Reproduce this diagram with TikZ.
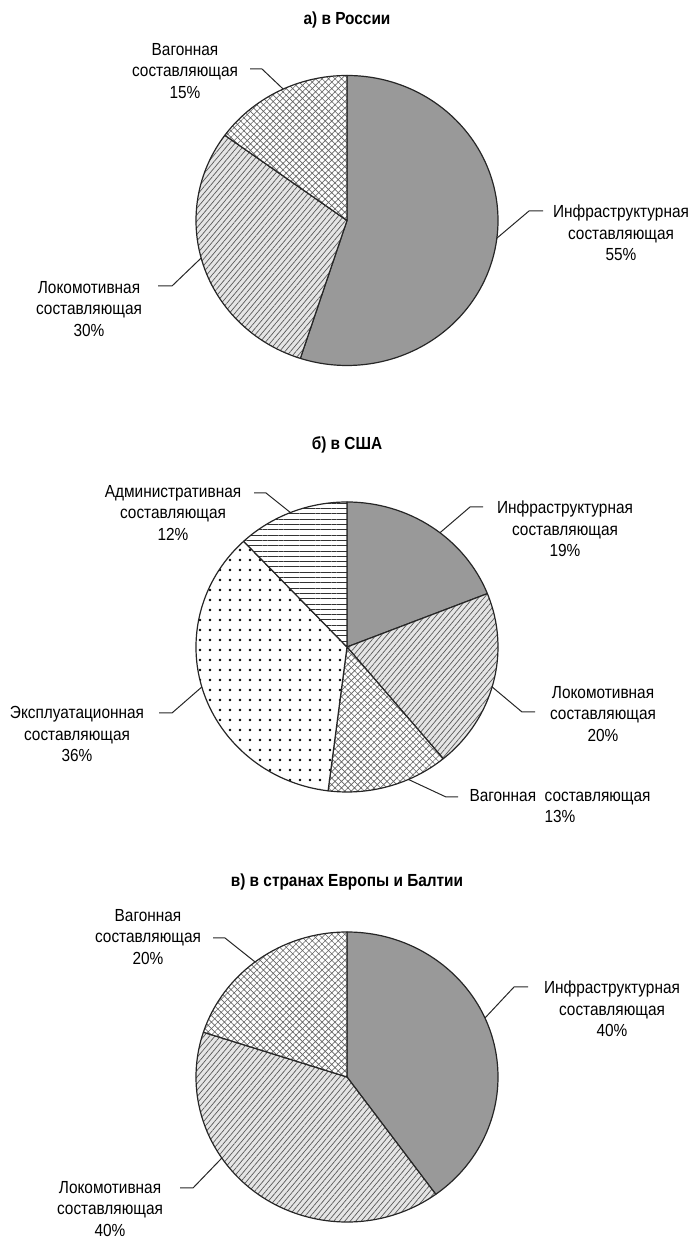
\documentclass[tikz,border=0pt]{standalone}
\usepackage{fontspec}
\setmainfont{Liberation Sans}[FakeStretch=0.88]
\usetikzlibrary{patterns.meta,calc}
\begin{document}
\begin{tikzpicture}[x=1pt,y=1pt,
  wedge/.style={draw=black!85, line width=1.2pt, line join=round},
  infra/.style={wedge, fill=black!40},
  loco/.style={wedge, preaction={fill=black!10}, pattern={Lines[angle=50,distance=4.2pt,line width=0.7pt]}, pattern color=black!65},
  vagon/.style={wedge, preaction={fill=white}, pattern={Hatch[angle=45,distance=4.6pt,line width=0.65pt]}, pattern color=black!60},
  expl/.style={wedge, preaction={fill=white}, pattern={Dots[distance=10pt,radius=1.3pt]}, pattern color=black},
  admin/.style={wedge, preaction={fill=white}, pattern={Lines[angle=0,distance=5.3pt,line width=0.8pt]}, pattern color=black!80},
  lbl/.style={align=center, font=\fontsize{17.5}{21.5}\selectfont, inner sep=0pt},
  ttl/.style={font=\fontsize{17.5}{21}\selectfont\bfseries, inner sep=0pt},
  lead/.style={draw=black!85, line width=1pt}
]
\useasboundingbox (0,0) rectangle (699,1240);

% ---------- a) Russia ----------
\node[ttl] (ta) at (347,1220) {а) в России};
\coordinate (ca) at (347,1019.5);
\path[infra] (ca) -- ($(ca)+(90:151 and 145)$) arc[start angle=90, end angle=-108, x radius=151, y radius=145] -- cycle;
\path[loco]  (ca) -- ($(ca)+(-108:151 and 145)$) arc[start angle=-108, end angle=-216, x radius=151, y radius=145] -- cycle;
\path[vagon] (ca) -- ($(ca)+(144:151 and 145)$) arc[start angle=144, end angle=90, x radius=151, y radius=145] -- cycle;

\node[lbl] (la1) at (185,1169) {Вагонная\\составляющая\\15\%};
\node[lbl] (la2) at (621,1007) {Инфраструктурная\\составляющая\\55\%};
\node[lbl] (la3) at (89,931) {Локомотивная\\составляющая\\30\%};

\coordinate (ea1) at ($(ca)+(115:151 and 145)$);
\coordinate (ka1) at (262,1171); \coordinate (sa1) at (250,1171);
\coordinate (ea2) at ($(ca)+(-7:151 and 145)$);
\coordinate (ka2) at (529,1029); \coordinate (sa2) at (543,1029);
\coordinate (ea3) at ($(ca)+(195:151 and 145)$);
\coordinate (ka3) at (172,954); \coordinate (sa3) at (158,954);
\draw[lead] (ea1) -- (ka1) -- (sa1);
\draw[lead] (ea2) -- (ka2) -- (sa2);
\draw[lead] (ea3) -- (ka3) -- (sa3);

% ---------- b) USA ----------
\node[ttl] (tb) at (347,795) {б) в США};
\coordinate (cb) at (347,593);
\path[infra] (cb) -- ($(cb)+(90:151 and 145)$) arc[start angle=90, end angle=21.6, x radius=151, y radius=145] -- cycle;
\path[loco]  (cb) -- ($(cb)+(21.6:151 and 145)$) arc[start angle=21.6, end angle=-50.4, x radius=151, y radius=145] -- cycle;
\path[vagon] (cb) -- ($(cb)+(-50.4:151 and 145)$) arc[start angle=-50.4, end angle=-97.2, x radius=151, y radius=145] -- cycle;
\path[expl]  (cb) -- ($(cb)+(-97.2:151 and 145)$) arc[start angle=-97.2, end angle=-226.8, x radius=151, y radius=145] -- cycle;
\path[admin] (cb) -- ($(cb)+(133.2:151 and 145)$) arc[start angle=133.2, end angle=90, x radius=151, y radius=145] -- cycle;

\node[lbl] (lb1) at (173,727) {Административная\\составляющая\\12\%};
\node[lbl] (lb2) at (565,711) {Инфраструктурная\\составляющая\\19\%};
\node[lbl] (lb3) at (603,526) {Локомотивная\\составляющая\\20\%};
\node[lbl] (lb4) at (560,434) {Вагонная\ \ составляющая\\13\%};
\node[lbl] (lb5) at (77,506) {Эксплуатационная\\составляющая\\36\%};

\coordinate (eb1) at ($(cb)+(112:151 and 145)$);
\coordinate (kb1) at (266,747); \coordinate (sb1) at (254,747);
\coordinate (eb2) at ($(cb)+(52:151 and 145)$);
\coordinate (kb2) at (470,733); \coordinate (sb2) at (483,733);
\coordinate (eb3) at ($(cb)+(-16:151 and 145)$);
\coordinate (kb3) at (522,528); \coordinate (sb3) at (535,528);
\coordinate (eb4) at ($(cb)+(-66:151 and 145)$);
\coordinate (kb4) at (446,443); \coordinate (sb4) at (458,443);
\coordinate (eb5) at ($(cb)+(196:151 and 145)$);
\coordinate (kb5) at (172,527); \coordinate (sb5) at (159,527);
\draw[lead] (eb1) -- (kb1) -- (sb1);
\draw[lead] (eb2) -- (kb2) -- (sb2);
\draw[lead] (eb3) -- (kb3) -- (sb3);
\draw[lead] (eb4) -- (kb4) -- (sb4);
\draw[lead] (eb5) -- (kb5) -- (sb5);

% ---------- c) Europe & Baltic ----------
\node[ttl] (tc) at (347,358) {в) в странах Европы и Балтии};
\coordinate (cc) at (347,163);
\path[infra] (cc) -- ($(cc)+(90:151 and 145)$) arc[start angle=90, end angle=-54, x radius=151, y radius=145] -- cycle;
\path[loco]  (cc) -- ($(cc)+(-54:151 and 145)$) arc[start angle=-54, end angle=-198, x radius=151, y radius=145] -- cycle;
\path[vagon] (cc) -- ($(cc)+(162:151 and 145)$) arc[start angle=162, end angle=90, x radius=151, y radius=145] -- cycle;

\node[lbl] (lc1) at (148,303) {Вагонная\\составляющая\\20\%};
\node[lbl] (lc2) at (612,231) {Инфраструктурная\\составляющая\\40\%};
\node[lbl] (lc3) at (110,31) {Локомотивная\\составляющая\\40\%};

\coordinate (ec1) at ($(cc)+(127.5:151 and 145)$);
\coordinate (kc1) at (225,302); \coordinate (sc1) at (213,302);
\coordinate (ec2) at ($(cc)+(24:151 and 145)$);
\coordinate (kc2) at (514,253); \coordinate (sc2) at (528,253);
\coordinate (ec3) at ($(cc)+(214:151 and 145)$);
\coordinate (kc3) at (193,52); \coordinate (sc3) at (180,52);
\draw[lead] (ec1) -- (kc1) -- (sc1);
\draw[lead] (ec2) -- (kc2) -- (sc2);
\draw[lead] (ec3) -- (kc3) -- (sc3);
\end{tikzpicture}
\end{document}
